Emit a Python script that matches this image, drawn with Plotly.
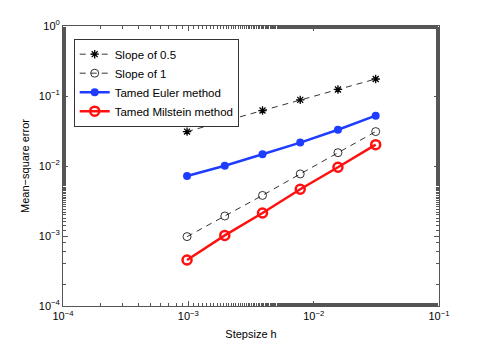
import plotly.graph_objects as go

h = [2**-10, 2**-9, 2**-8, 2**-7, 2**-6, 2**-5]
slope_half = [0.031, 0.044, 0.062, 0.088, 0.124, 0.175]
slope_one = [0.00098, 0.00193, 0.0038, 0.0077, 0.0155, 0.031]
euler = [0.0072, 0.0101, 0.0147, 0.0216, 0.033, 0.0523]
milstein = [0.000454, 0.00102, 0.00213, 0.00465, 0.0096, 0.0202]

x_ticks = [1e-4, 1e-3, 1e-2, 1e-1]
x_labels = ["10<sup>−4</sup>", "10<sup>−3</sup>", "10<sup>−2</sup>", "10<sup>−1</sup>"]
y_ticks = [1e-4, 1e-3, 1e-2, 1e-1, 1]
y_labels = ["10<sup>−4</sup>", "10<sup>−3</sup>", "10<sup>−2</sup>", "10<sup>−1</sup>", "10<sup>0</sup>"]

FONT = "Liberation Sans, Arial"

fig = go.Figure()
fig.add_trace(go.Scatter(x=h, y=slope_half, name="Slope of 0.5", mode="lines+markers",
                         line=dict(color="black", width=0.8, dash="6px,5px"),
                         marker=dict(symbol="asterisk-open", size=7, color="black", line=dict(width=1.3, color="black"))))
fig.add_trace(go.Scatter(x=h, y=slope_one, name="Slope of 1", mode="lines+markers",
                         line=dict(color="black", width=0.8, dash="6px,5px"),
                         marker=dict(symbol="circle-open", size=8, color="black", line=dict(width=0.8, color="black"))))
fig.add_trace(go.Scatter(x=h, y=euler, name="Tamed Euler method", mode="lines+markers",
                         line=dict(color="#1f3dff", width=2.5),
                         marker=dict(symbol="circle", size=8, color="#1f3dff")))
fig.add_trace(go.Scatter(x=h, y=milstein, name="Tamed Milstein method", mode="lines+markers",
                         line=dict(color="#ff1010", width=2.5),
                         marker=dict(symbol="circle-open", size=9, color="#ff1010", line=dict(width=2.5, color="#ff1010"))))

axis_common = dict(type="log", showgrid=False, zeroline=False, showline=True, linecolor="#555555", linewidth=1,
                   mirror="allticks", ticks="inside", ticklen=5, tickcolor="#555555", tickwidth=0.8,
                   automargin=False,
                   tickfont=dict(family=FONT, size=11, color="black"),
                   minor=dict(ticks="inside", ticklen=3, tickcolor="#555555", tickwidth=0.6, showgrid=False))

fig.update_xaxes(range=[-4, -1], tickvals=x_ticks, ticktext=x_labels,
                 title=dict(text="Stepsize h", font=dict(family=FONT, size=11, color="black"), standoff=9),
                 **axis_common)
fig.update_yaxes(range=[-4, 0], tickvals=y_ticks, ticktext=y_labels,
                 title=dict(text="Mean−square error", font=dict(family=FONT, size=11, color="black"), standoff=6),
                 **axis_common)

fig.update_layout(width=477, height=338, margin=dict(l=55, r=46, t=18, b=40, autoexpand=False),
                  plot_bgcolor="white", paper_bgcolor="white",
                  legend=dict(x=0.029, y=0.954, xanchor="left", yanchor="top", bgcolor="white",
                              bordercolor="black", borderwidth=0.8, tracegroupgap=0, itemwidth=30,
                              font=dict(family=FONT, size=11.5, color="black")),
                  showlegend=True)

fig.write_html("out.html")
